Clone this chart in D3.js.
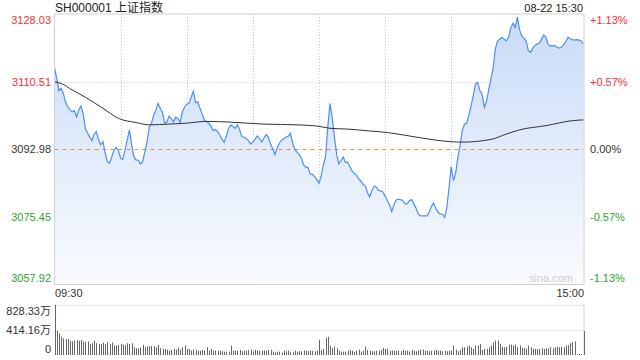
<!DOCTYPE html>
<html>
<head>
<meta charset="utf-8">
<script src="https://cdn.jsdelivr.net/npm/d3@7"></script>
<style>
  body { margin: 0; background: #fff; }
  text { font-family: Arial, "Liberation Sans", "Noto Sans CJK SC", sans-serif; }
</style>
</head>
<body>
<div id="main"></div>
<script>
/*********************************************************
 * Data
 *********************************************************/
const title = 'SH000001 上证指数';
const stamp = '08-22 15:30';
const timeLabels = ['09:30', '15:00'];
const priceTicks = [3128.03, 3110.51, 3092.98, 3075.45, 3057.92];
const pctLabels = ['+1.13%', '+0.57%', '0.00%', '-0.57%', '-1.13%'];
const prevClose = 3092.98;
const volTicks = [828.33, 414.16, 0];
const volTickLabels = ['828.33万', '414.16万', '0'];

// one price per minute, 09:30 .. 15:00 (241 points)
const priceData = [
  3114.4, 3111.5, 3108.3, 3108.9, 3107.6, 3105.4, 3104.1, 3103.3, 3102.8, 3103.1,
  3101.5, 3103.3, 3104.3, 3102.4, 3098.5, 3097.2, 3096.2, 3095.3, 3097.0, 3097.6,
  3095.5, 3094.2, 3095.0, 3092.0, 3089.8, 3089.4, 3091.1, 3092.8, 3093.5, 3092.8,
  3090.7, 3090.4, 3092.8, 3095.5, 3098.1, 3094.2, 3091.1, 3090.2, 3090.2, 3089.2,
  3089.8, 3092.4, 3095.0, 3098.9, 3099.8, 3101.9, 3103.3, 3105.0, 3103.7, 3102.6,
  3099.8, 3100.2, 3101.7, 3101.1, 3100.2, 3101.4, 3101.0, 3100.0, 3102.8, 3104.0,
  3104.8, 3105.0, 3106.6, 3108.2, 3105.2, 3105.4, 3103.7, 3102.2, 3100.7, 3100.2,
  3099.8, 3099.1, 3097.9, 3098.2, 3097.6, 3096.8, 3095.6, 3094.9, 3096.5, 3098.5,
  3099.4,
  3098.9, 3098.5, 3099.4, 3098.1, 3096.3, 3096.2, 3095.8, 3095.3, 3094.4, 3094.9,
  3095.6, 3096.5, 3095.9, 3094.9, 3095.9, 3096.9, 3096.2, 3094.4, 3093.2, 3091.7,
  3093.4, 3094.6, 3095.4, 3095.8, 3096.2, 3096.4, 3097.2, 3094.8, 3093.0, 3092.3,
  3091.7, 3090.7, 3089.0, 3088.3, 3088.3, 3086.6, 3086.5, 3085.9, 3085.2, 3084.2,
  3086.1, 3089.0, 3091.1, 3098.9, 3105.0, 3101.1, 3096.2, 3091.8, 3089.2, 3090.1,
  3091.0, 3089.6, 3089.7, 3088.5, 3087.4, 3086.7, 3086.3, 3085.3, 3084.7, 3083.9,
  3083.5, 3081.7, 3080.6, 3082.2, 3083.4, 3083.2, 3082.3, 3082.2, 3081.9, 3080.8,
  3079.7, 3078.5, 3076.8, 3078.6, 3079.8, 3080.0, 3079.9, 3079.7, 3078.8, 3078.8,
  3079.6, 3079.9, 3078.8, 3077.7, 3076.2, 3075.7, 3075.7, 3075.7, 3075.7, 3076.6,
  3078.1, 3079.0, 3077.6, 3076.6, 3076.2, 3076.1, 3075.3, 3077.9, 3083.1, 3088.5,
  3084.9, 3086.8, 3091.0, 3094.0, 3097.9, 3099.6, 3099.8, 3102.0, 3104.4, 3107.0,
  3110.0, 3110.5, 3108.3, 3107.4, 3104.0, 3105.5, 3108.5, 3111.3, 3114.2, 3119.2,
  3121.3, 3121.7, 3122.2, 3121.7, 3121.3, 3122.2, 3124.6, 3125.9, 3124.8, 3127.5,
  3124.2, 3122.5, 3122.0, 3121.2, 3118.7, 3118.3, 3119.4, 3120.1, 3120.5, 3120.7,
  3121.8, 3122.8, 3122.2, 3120.3, 3120.0, 3120.0, 3120.1, 3119.6, 3119.4, 3119.6,
  3120.3, 3121.2, 3122.2, 3121.9, 3121.6, 3121.5, 3121.6, 3121.5, 3121.2, 3120.5
];

// average price line, sampled where it could be read
const avgMinutes = [0, 3, 8, 14, 22, 29, 37, 43, 52, 59, 69, 80, 95, 110, 119, 125,
  133, 143, 151, 161, 172, 180, 185, 198, 205, 211, 223, 235, 240];
const avgValues = [3110.6, 3110.2, 3108.5, 3106.6, 3103.7, 3101.1, 3100.0, 3099.4,
  3099.6, 3099.8, 3100.3, 3100.1, 3099.6, 3099.4, 3099.1, 3098.5, 3098.3, 3097.8,
  3097.4, 3096.5, 3095.5, 3095.0, 3094.9, 3095.6, 3097.0, 3098.1, 3099.2, 3100.5, 3100.7];

// volume per minute, in 万
const volumeData = [
  823, 394, 356, 301, 274, 263, 263, 235, 224, 235, 246, 235, 246, 219, 219, 219, 180,
  193, 237, 193, 182, 182, 204, 182, 210, 182, 204, 155, 155, 166, 182, 171,
  160, 193, 182, 193, 127, 110, 110, 121, 166, 127, 144, 144, 144, 144, 127,
  166, 110, 99, 99, 88, 72, 83, 99, 88, 121, 88, 127, 155, 99, 99,
  72, 88, 83, 72, 72, 83, 72, 127, 72, 99, 72, 72, 72, 72, 61,
  55, 55, 55, 155, 72, 72, 72, 83, 61, 72, 72, 83, 88, 61, 83,
  72, 72, 72, 72, 72, 83, 83, 55, 44, 55, 55, 39, 72, 61, 72,
  55, 44, 72, 55, 61, 61, 72, 72, 61, 72, 66, 61, 72,
  246,
  83, 99, 285, 300,
  155, 110, 138, 110, 72, 55, 55, 55, 72, 83, 72, 55, 72, 88, 55,
  72, 138, 83, 72, 61, 61, 72, 72, 83, 116, 99, 99, 72, 72, 72,
  72, 72, 61, 83, 72, 72, 61, 83, 72, 61, 72, 88, 88, 72, 72,
  61, 72, 72, 83, 72, 72, 61, 72, 61, 72, 72, 155, 88, 61, 83,
  127, 127, 138, 155, 127, 99, 155, 155, 182, 83, 99, 99, 127, 155, 210,
  237, 237, 182, 138, 127, 138, 171, 171, 155, 171, 127, 155, 116, 116, 99,
  155, 127, 99, 99, 99, 99, 110, 99, 110, 110, 127, 110, 127, 138, 127,
  138, 127, 155, 160, 193, 210, 221,
  8, 8, 8,
  394
];

/*********************************************************
 * Layout
 *********************************************************/
const svgWidth = 640;
const svgHeight = 360;
const plot = { l: 54.5, r: 583.5, t: 15, b: 284 };
const vol = { t: 304.5, b: 355 };

const red = '#f03232';
const green = '#2ca52c';
const dark = '#333';

const svg = d3.select('#main')
  .append('svg')
  .attr('width', svgWidth)
  .attr('height', svgHeight);

const x = d3.scaleLinear().domain([0, 240]).range([plot.l, plot.r]);
const y = d3.scaleLinear().domain([priceTicks[4], priceTicks[0]]).range([plot.b, plot.t]);
const volY = d3.scaleLinear().domain([0, volTicks[0]]).range([vol.b, vol.t]);

// gradient for the area
const grad = svg.append('defs').append('linearGradient')
  .attr('id', 'fillGrad')
  .attr('gradientUnits', 'userSpaceOnUse')
  .attr('x1', 0).attr('y1', plot.t)
  .attr('x2', 0).attr('y2', plot.b);
grad.append('stop').attr('offset', '0%').attr('stop-color', '#c9dbf7');
grad.append('stop').attr('offset', '100%').attr('stop-color', '#f9fbff');

/*********************************************************
 * Grid + frame
 *********************************************************/
const gridMinutes = [30, 60, 90, 120, 150, 180, 210];

svg.append('g').selectAll('line')
  .data(gridMinutes)
  .enter().append('line')
  .attr('x1', d => Math.round(x(d)) + 0.5)
  .attr('x2', d => Math.round(x(d)) + 0.5)
  .attr('y1', plot.t - 1)
  .attr('y2', plot.b)
  .attr('stroke', '#ccc')
  .attr('stroke-dasharray', '1,2');

svg.append('g').selectAll('line')
  .data([priceTicks[1], priceTicks[3]])
  .enter().append('line')
  .attr('x1', plot.l)
  .attr('x2', plot.r)
  .attr('y1', d => Math.round(y(d)) + 0.5)
  .attr('y2', d => Math.round(y(d)) + 0.5)
  .attr('stroke', '#ccc')
  .attr('stroke-dasharray', '1,2');

// area + lines
const area = d3.area()
  .x((d, i) => x(i))
  .y0(plot.b)
  .y1(d => y(d));

svg.append('path')
  .datum(priceData)
  .attr('d', area)
  .attr('fill', 'url(#fillGrad)');

svg.append('line')
  .attr('x1', plot.l).attr('x2', plot.r)
  .attr('y1', Math.round(y(prevClose)) + 0.5)
  .attr('y2', Math.round(y(prevClose)) + 0.5)
  .attr('stroke', '#f0884c')
  .attr('stroke-dasharray', '4,4');

const line = d3.line()
  .x((d, i) => x(i))
  .y(d => y(d));

svg.append('path')
  .datum(priceData)
  .attr('d', line)
  .attr('fill', 'none')
  .attr('stroke', '#4d8ef5')
  .attr('stroke-width', 1.2);

const avgLine = d3.line()
  .x(d => x(d[0]))
  .y(d => y(d[1]))
  .curve(d3.curveMonotoneX);

svg.append('path')
  .datum(avgMinutes.map((m, i) => [m, avgValues[i]]))
  .attr('d', avgLine)
  .attr('fill', 'none')
  .attr('stroke', '#333')
  .attr('stroke-width', 1);

// frame
svg.append('path')
  .attr('d', `M${plot.l},${plot.t - 1}H${plot.r + 0.5}V${plot.b + 0.5}H${plot.l}Z`)
  .attr('fill', 'none')
  .attr('stroke', '#d0d0d0');

svg.append('text')
  .attr('x', 573).attr('y', 282)
  .attr('text-anchor', 'end')
  .attr('font-size', 11)
  .attr('fill', '#ccc')
  .text('sina.com');

/*********************************************************
 * Labels
 *********************************************************/
const labelColor = i => i < 2 ? red : (i === 2 ? dark : green);
const clampY = v => Math.min(Math.max(v, 20.5), 278);

svg.append('g').selectAll('text')
  .data(priceTicks)
  .enter().append('text')
  .attr('x', 51)
  .attr('y', d => clampY(y(d)))
  .attr('dy', '0.35em')
  .attr('text-anchor', 'end')
  .attr('font-size', 11)
  .attr('fill', (d, i) => labelColor(i))
  .text(d => d.toFixed(2));

svg.append('g').selectAll('text')
  .data(pctLabels)
  .enter().append('text')
  .attr('x', 590)
  .attr('y', (d, i) => clampY(y(priceTicks[i])))
  .attr('dy', '0.35em')
  .attr('font-size', 11)
  .attr('fill', (d, i) => labelColor(i))
  .text(d => d);

svg.append('text')
  .attr('x', 55).attr('y', 12)
  .attr('font-size', 12)
  .attr('fill', '#222')
  .text(title);

svg.append('text')
  .attr('x', 583).attr('y', 12)
  .attr('text-anchor', 'end')
  .attr('font-size', 11)
  .attr('fill', '#222')
  .text(stamp);

svg.append('text')
  .attr('x', 55).attr('y', 297)
  .attr('font-size', 11)
  .attr('fill', dark)
  .text(timeLabels[0]);

svg.append('text')
  .attr('x', 584).attr('y', 297)
  .attr('text-anchor', 'end')
  .attr('font-size', 11)
  .attr('fill', dark)
  .text(timeLabels[1]);

/*********************************************************
 * Volume panel
 *********************************************************/
svg.append('g').selectAll('line')
  .data(volTicks.slice(0, 2))
  .enter().append('line')
  .attr('x1', plot.l).attr('x2', plot.r)
  .attr('y1', d => Math.round(volY(d)) + 0.5)
  .attr('y2', d => Math.round(volY(d)) + 0.5)
  .attr('stroke', '#ccc')
  .attr('stroke-dasharray', '1,1');

svg.append('line')
  .attr('x1', plot.r + 0.5).attr('x2', plot.r + 0.5)
  .attr('y1', vol.t).attr('y2', vol.b)
  .attr('stroke', '#d0d0d0');

svg.append('g').selectAll('rect')
  .data(volumeData)
  .enter().append('rect')
  .attr('x', (d, i) => Math.round(x(i)))
  .attr('width', 1)
  .attr('y', d => Math.min(volY(d), vol.b - 1))
  .attr('height', d => Math.max(vol.b - volY(d), 1))
  .attr('fill', '#666');

svg.append('g').selectAll('text')
  .data(volTickLabels)
  .enter().append('text')
  .attr('x', 51)
  .attr('y', (d, i) => Math.min(Math.max(volY(volTicks[i]), 311), 349))
  .attr('dy', '0.35em')
  .attr('text-anchor', 'end')
  .attr('font-size', 11)
  .attr('fill', dark)
  .text(d => d);
</script>
</body>
</html>
